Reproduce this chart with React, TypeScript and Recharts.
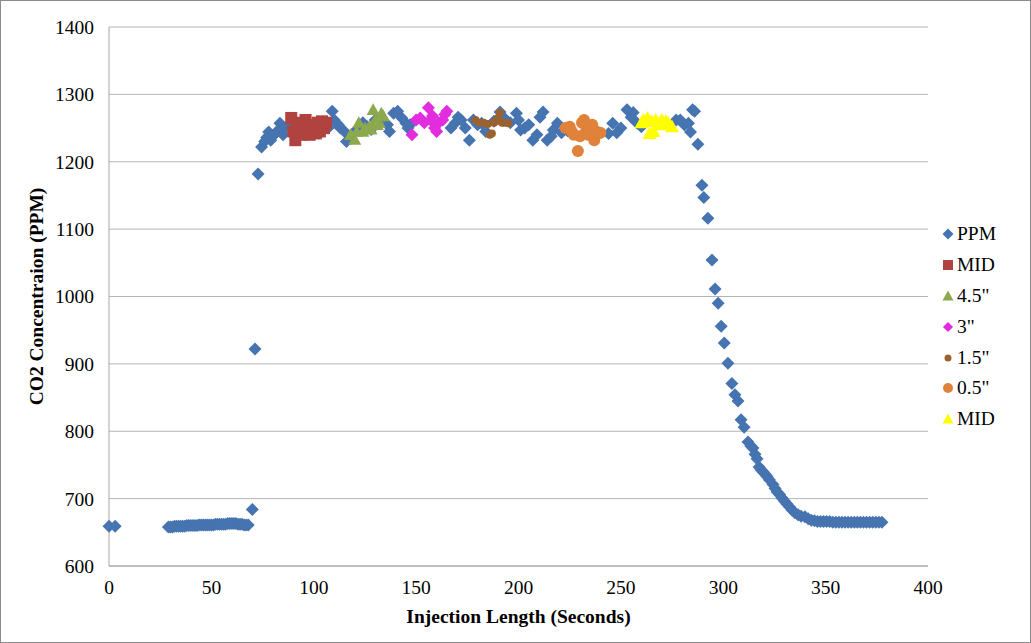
import React from "react";
import {
  ScatterChart,
  Scatter,
  XAxis,
  YAxis,
  CartesianGrid,
  Label,
} from "recharts";

// [seconds, ppm]
const ppmPoints: [number, number][] = [
  [0, 659], [3, 659],
  [29, 658], [30, 658], [31, 658], [32, 659], [33, 659], [34, 659], [35, 659],
  [36, 659], [37, 659], [38, 660], [39, 660], [40, 660], [41, 660], [42, 660],
  [43, 660], [44, 661], [45, 661], [46, 661], [47, 661], [48, 661], [49, 661],
  [50, 661], [51, 661], [52, 662], [53, 662], [54, 662], [55, 662], [56, 662],
  [57, 662], [58, 663], [59, 663], [60, 663], [61, 663], [62, 663], [63, 662],
  [64, 662], [65, 662], [66, 661], [67, 661], [68, 661],
  [70, 684], [71.3, 922], [72.8, 1182],
  [74.5, 1222], [76, 1230], [77, 1236], [78, 1244], [79, 1232], [80, 1238],
  [82, 1245], [83.5, 1257], [85, 1240], [86, 1250], [88, 1252], [95, 1255],
  [100, 1250], [104, 1245], [107, 1250], [109, 1275], [110, 1262], [111, 1257],
  [112, 1255], [113, 1250], [115, 1245], [116, 1230], [118, 1235], [121, 1248],
  [124, 1258], [126, 1252], [128, 1248], [130, 1262], [133, 1265], [136, 1255],
  [137, 1245], [139, 1272], [141, 1275], [143, 1265], [145, 1257], [146, 1250],
  [147, 1255], [167, 1250], [169, 1257], [170.5, 1266], [172, 1262], [174, 1250],
  [176, 1232], [178, 1262], [180, 1255], [182, 1257], [184, 1245], [188, 1260],
  [191, 1274], [193, 1265], [196, 1258], [199, 1272], [200, 1262], [201, 1247],
  [203, 1250], [205, 1255], [207, 1232], [209, 1240], [210.5, 1266], [212, 1274],
  [214, 1232], [216, 1238], [217, 1247], [219, 1257], [221, 1243], [224, 1246],
  [244, 1242], [246, 1257], [248, 1243], [250, 1250], [253, 1277], [255, 1266],
  [256, 1273], [258, 1257], [260, 1252], [277, 1262], [279, 1262], [281, 1255],
  [283, 1257], [284, 1244], [285, 1277], [286, 1275], [287.6, 1226],
  [289.6, 1165], [290.5, 1147], [292.5, 1116], [294.5, 1054], [296, 1011],
  [297.5, 990], [299, 956], [300.5, 931], [302.3, 901], [304.2, 871],
  [305.7, 854], [307.2, 845], [308.7, 817], [310.2, 806], [312.1, 784],
  [313.5, 778], [314.5, 775], [315.5, 766], [316.5, 759], [317.5, 747],
  [318.5, 743], [319.4, 740], [320.5, 736], [321.4, 733], [322.5, 728],
  [324.3, 721], [325.3, 715], [326.3, 710], [327.5, 706], [328.7, 701],
  [330, 696], [331.1, 692], [332.3, 688], [333.6, 683], [335, 679],
  [336.5, 676], [338, 674], [339.9, 673], [341.5, 670], [343, 668],
  [344.5, 667], [346, 666], [347.5, 666], [349, 666], [350.5, 666], [352, 666],
  [353.5, 665], [355, 665], [356.5, 665], [358, 665], [359.5, 665], [361, 665],
  [362.5, 665], [364, 665], [365.5, 665], [367, 665], [368.5, 665], [370, 665],
  [371.5, 665], [373, 665], [374.5, 665], [376, 665], [377.5, 665],
];

const midPoints: [number, number][] = [
  [89, 1265], [90, 1245], [91, 1232], [92, 1258], [93, 1250], [94, 1240],
  [96, 1262], [97, 1248], [98, 1240], [100, 1255], [101, 1242], [102, 1258],
  [103, 1245], [104, 1260], [105, 1250], [106, 1258],
];

const p45Points: [number, number][] = [
  [118, 1240], [120, 1233], [121, 1245], [122, 1258], [124, 1245], [125, 1250],
  [127, 1252], [128, 1248], [129, 1277], [130, 1262], [131, 1255], [132, 1258],
  [133, 1272], [134, 1268],
];

const p3Points: [number, number][] = [
  [148, 1240], [150, 1262], [152, 1265], [154, 1258], [156, 1280], [157, 1262],
  [158, 1268], [159, 1250], [160, 1245], [161, 1258], [163, 1262], [164, 1270],
  [165, 1275],
];

const p15Points: [number, number][] = [
  [179, 1262], [181, 1258], [183, 1258], [185, 1256], [186, 1240], [187, 1242],
  [188, 1258], [189, 1260], [190, 1265], [191, 1273], [192, 1258], [193, 1258],
  [195, 1257],
];

const p05Points: [number, number][] = [
  [223, 1250], [225, 1252], [226, 1245], [227, 1240], [229, 1216], [230, 1238],
  [231, 1258], [232, 1262], [233, 1245], [234, 1240], [235, 1250], [236, 1255],
  [237, 1232], [238, 1245], [239, 1242], [240, 1243],
];

const mid2Points: [number, number][] = [
  [260, 1258], [261, 1262], [263, 1265], [264, 1242], [265, 1260], [266, 1245],
  [267, 1262], [268, 1255], [269, 1258], [270, 1262], [272, 1260], [273, 1258],
  [274, 1255], [275, 1252],
];

const xTicks = [0, 50, 100, 150, 200, 250, 300, 350, 400];
const yTicks = [600, 700, 800, 900, 1000, 1100, 1200, 1300, 1400];

type Kind = "diamond" | "square" | "triangle" | "circle";

const toData = (pts: [number, number][]) => pts.map(([x, y]) => ({ x, y }));

function Marker({ kind, color, r, cx, cy }: { kind: Kind; color: string; r: number; cx: number; cy: number }) {
  if (kind === "diamond")
    return <polygon points={`${cx},${cy - r} ${cx + r},${cy} ${cx},${cy + r} ${cx - r},${cy}`} fill={color} />;
  if (kind === "square")
    return <rect x={cx - r} y={cy - r} width={r * 2} height={r * 2} fill={color} />;
  if (kind === "triangle")
    return <polygon points={`${cx},${cy - r} ${cx + r},${cy + r * 0.8} ${cx - r},${cy + r * 0.8}`} fill={color} />;
  return <circle cx={cx} cy={cy} r={r} fill={color} />;
}

const SERIES: { name: string; data: [number, number][]; kind: Kind; color: string; r: number; lr: number }[] = [
  { name: "PPM", data: ppmPoints, kind: "diamond", color: "#4674B0", r: 6.5, lr: 5.5 },
  { name: "MID", data: midPoints, kind: "square", color: "#B0433F", r: 6, lr: 5 },
  { name: '4.5"', data: p45Points, kind: "triangle", color: "#8CA94E", r: 6.5, lr: 5.5 },
  { name: '3"', data: p3Points, kind: "diamond", color: "#E22DDF", r: 6.5, lr: 5 },
  { name: '1.5"', data: p15Points, kind: "circle", color: "#9A6231", r: 4, lr: 3.5 },
  { name: '0.5"', data: p05Points, kind: "circle", color: "#E0823A", r: 6, lr: 5 },
  { name: "MID", data: mid2Points, kind: "triangle", color: "#FFFF00", r: 7, lr: 5.5 },
];

const FONT = "'Liberation Serif', 'Times New Roman', serif";
const FS = 19.5;

export default function App() {
  return (
    <div style={{ position: "absolute", left: 0, top: 0, width: 1031, height: 643, background: "#fff", fontFamily: FONT }}>
      <ScatterChart width={1031} height={643} margin={{ top: 27, right: 103, bottom: 0, left: 0 }}>
        <CartesianGrid horizontal vertical={false} stroke="#B4B4B4" />
        <XAxis
          type="number"
          dataKey="x"
          domain={[0, 400]}
          ticks={xTicks}
          height={77}
          tickLine={false}
          tickSize={0}
          tickMargin={14}
          stroke="#A6A6A6"
          tick={{ fill: "#000", fontSize: FS, fontFamily: FONT }}
        >
          <Label
            value="Injection Length (Seconds)"
            position="insideBottom"
            offset={20}
            style={{ fontWeight: "bold", fontSize: FS, fill: "#000", fontFamily: FONT }}
          />
        </XAxis>
        <YAxis
          type="number"
          dataKey="y"
          domain={[600, 1400]}
          ticks={yTicks}
          width={109}
          tickLine={false}
          tickSize={0}
          tickMargin={15}
          stroke="#A6A6A6"
          tick={{ fill: "#000", fontSize: FS, fontFamily: FONT }}
        >
          <Label
            value="CO2 Concentraion (PPM)"
            position="insideLeft"
            angle={-90}
            offset={36}
            textAnchor="middle"
            style={{ fontWeight: "bold", fontSize: FS, fill: "#000", fontFamily: FONT, textAnchor: "middle" }}
          />
        </YAxis>
        {SERIES.map((s, i) => (
          <Scatter
            key={i}
            name={s.name}
            data={toData(s.data)}
            isAnimationActive={false}
            shape={(p: any) => <Marker kind={s.kind} color={s.color} r={s.r} cx={p.cx} cy={p.cy} />}
          />
        ))}
      </ScatterChart>
      <div style={{ position: "absolute", left: 940, top: 219 }}>
        {SERIES.map((s, i) => (
          <div key={i} style={{ display: "flex", alignItems: "center", height: 30.8, fontSize: FS, color: "#000" }}>
            <svg width={16} height={16} style={{ marginRight: 1 }}>
              <Marker kind={s.kind} color={s.color} r={s.lr} cx={8} cy={8} />
            </svg>
            <span>{s.name}</span>
          </div>
        ))}
      </div>
      <div
        style={{
          position: "absolute",
          left: 0,
          top: 0,
          width: 1029,
          height: 641,
          border: "1px solid #8C8C8C",
          pointerEvents: "none",
        }}
      />
    </div>
  );
}
